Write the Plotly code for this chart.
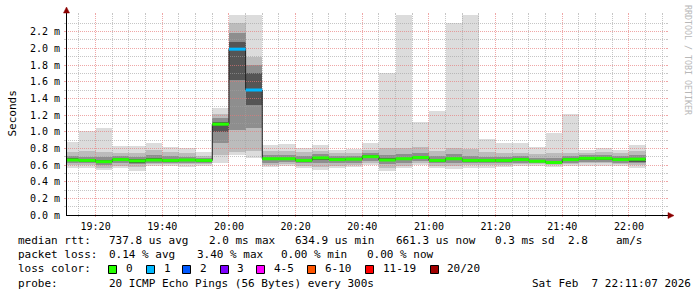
import math
import plotly.graph_objects as go
import pandas as pd

# ---------------- data ----------------
DAY = "2026-02-07 "
bar_start = ["19:10", "19:15", "19:20", "19:25", "19:30", "19:35", "19:40", "19:45",
             "19:50", "19:55", "20:00", "20:05", "20:10", "20:15", "20:20", "20:25",
             "20:30", "20:35", "20:40", "20:45", "20:50", "20:55", "21:00", "21:05",
             "21:10", "21:15", "21:20", "21:25", "21:30", "21:35", "21:40", "21:45",
             "21:50", "21:55", "22:00"]
# round-trip times in ms (sorted ping quantiles per 5-minute step)
rtt_min = [.57, .57, .54, .56, .53, .59, .59, .58, .59, .63, .72, .68, .58, .59, .56, .54, .56, .58,
           .595, .53, .56, .595, .56, .55, .57, .57, .58, .59, .59, .58, .59, .59, .59, .59, .57]
rtt_p10 = [.60, .60, .57, .59, .58, .61, .61, .61, .61, .72, .76, .77, .60, .61, .59, .58, .59, .60,
           .62, .57, .59, .62, .59, .59, .60, .60, .60, .61, .61, .60, .61, .62, .62, .61, .60]
rtt_p25 = [.62, .62, .60, .62, .61, .63, .63, .63, .63, .86, 1.02, 1.05, .63, .64, .62, .62, .62, .63,
           .65, .61, .63, .65, .62, .63, .62, .62, .62, .63, .62, .61, .63, .64, .64, .63, .62]
rtt_p40 = [.645, .635, .62, .645, .63, .645, .64, .645, .64, 1.00, 1.62, 1.32, .655, .66, .635, .655,
           .645, .655, .68, .645, .655, .67, .64, .655, .64, .64, .64, .645, .635, .625, .65, .66,
           .66, .645, .64]
rtt_med = [.66, .655, .64, .665, .65, .66, .655, .66, .655, 1.09, 1.99, 1.50, .675, .675, .655, .685,
           .665, .67, .70, .66, .675, .69, .655, .675, .655, .655, .655, .665, .645, .63, .665, .68,
           .68, .665, .67]
rtt_p60 = [.68, .67, .66, .68, .67, .68, .67, .675, .665, 1.12, 2.08, 1.70, .69, .69, .67, .70, .68,
           .685, .715, .68, .69, .71, .67, .69, .67, .67, .67, .68, .66, .65, .68, .69, .695, .68, .69]
rtt_p75 = [.71, .70, .70, .71, .70, .72, .71, .70, .68, 1.16, 2.18, 1.80, .72, .72, .71, .73, .71, .71,
           .74, .72, .73, .75, .71, .73, .71, .70, .70, .71, .69, .69, .71, .72, .72, .71, .72]
rtt_p90 = [.76, .77, .76, .75, .75, .78, .76, .74, .71, 1.21, 2.30, 1.90, .77, .77, .76, .77, .74, .75,
           .78, .80, .80, .82, .77, .80, .79, .76, .75, .75, .73, .75, .75, .75, .76, .75, .77]
rtt_max = [.88, 1.01, 1.05, .83, .83, .87, .82, .80, .76, 1.28, 2.45, 2.45, .84, .85, .81, .84, .78,
           .79, .87, 1.70, 2.45, 1.12, 1.25, 2.31, 2.45, .91, .87, .87, .82, .99, 1.21, .78, .80,
           .78, .84]
lost_pings = [0, 0, 0, 0, 0, 0, 0, 0, 0, 0, 1, 1, 0, 0, 0, 0, 0, 0, 0, 0, 0, 0, 0, 0, 0, 0, 0, 0,
              0, 0, 0, 0, 0, 0, 0]

x_tick_labels = ["19:20", "19:40", "20:00", "20:20", "20:40", "21:00", "21:20", "21:40", "22:00"]
y_tick_vals = [0.0, 0.2, 0.4, 0.6, 0.8, 1.0, 1.2, 1.4, 1.6, 1.8, 2.0, 2.2]
y_tick_text = ["0.0 m", "0.2 m", "0.4 m", "0.6 m", "0.8 m", "1.0 m", "1.2 m", "1.4 m",
               "1.6 m", "1.8 m", "2.0 m", "2.2 m"]

loss_labels = ["0", "1", "2", "3", "4-5", "6-10", "11-19", "20/20"]
loss_colors = ["#26ff00", "#00b8ff", "#0059ff", "#7e00ff", "#ff00ff", "#ff5500", "#ff0000", "#a10000"]
loss_class_of = {0: 0, 1: 1, 2: 2, 3: 3, 4: 4, 5: 4}

smoke_colors = ["#dcdcdc", "#bcbcbc", "#8e8e8e", "#555555"]

stats_line1 = [("median rtt:", 16), ("737.8 us avg", 107.3), ("2.0 ms max", 207),
               ("634.9 us min", 293.3), ("661.3 us now", 394), ("0.3 ms sd", 493.3),
               ("2.8", 566), ("am/s", 614)]
stats_line2 = [("packet loss:", 16), ("0.14 % avg", 107.3), ("3.40 % max", 195),
               ("0.00 % min", 279.3), ("0.00 % now", 365)]
legend_box_x = [108.3, 146, 182.7, 220, 256, 307.3, 365, 430]
probe_text = "20 ICMP Echo Pings (56 Bytes) every 300s"
date_text = "Sat Feb  7 22:11:07 2026"

# ---------------- geometry ----------------
W, H = 697, 297
L, R, T, B = 66, 31, 15, 82
PW, PH = W - L - R, H - T - B
X_START, X_END = DAY + "19:11:07", DAY + "22:11:07"
Y_MAX = 2.4


def px(x):
    return (x - L) / PW


def py(y):
    return (H - B - y) / PH


def snap(p):
    return math.floor(p) + 0.5


FONT = "DejaVu Sans Mono"
nb = lambda s: s.replace(" ", "\u00a0")

starts = pd.to_datetime([DAY + s for s in bar_start])
step = pd.Timedelta(minutes=5)
centers = starts + step / 2
ends = starts + step
t0 = pd.Timestamp(X_START)
span = (pd.Timestamp(X_END) - t0).total_seconds()

fig = go.Figure()

# smoke (outer band first, darkest innermost band last)
bands = [(rtt_min, rtt_max), (rtt_p10, rtt_p90), (rtt_p25, rtt_p75), (rtt_p40, rtt_p60)]
for (lo, hi), col in zip(bands, smoke_colors):
    fig.add_trace(go.Bar(
        x=centers, base=lo, y=[h - l for l, h in zip(lo, hi)],
        width=[step.total_seconds() * 1000] * len(lo),
        marker=dict(color=col, line=dict(width=0)),
        showlegend=False, hoverinfo="skip"))

# grid as line traces: above the smoke, below the median lines
MINOR = "rgba(160,160,160,0.6)"
MAJOR = "rgba(230,120,120,0.65)"
grid = {True: ([], [], [], []), False: ([], [], [], [])}   # vx, vy, hx, hy
tick_shapes = []
for t in pd.date_range(DAY + "19:15", DAY + "22:10", freq="5min"):
    major = t.minute % 20 == 0
    xp = snap(L + (t - t0).total_seconds() / span * PW)
    ts = t0 + pd.Timedelta(seconds=(xp - L) / PW * span)
    vx, vy, _, _ = grid[major]
    vx += [ts, ts, None]
    vy += [0, Y_MAX, None]
    col = MAJOR if major else MINOR
    for ya, yb in ((-2 / PH, 0), (1, 1 + 2 / PH)):
        tick_shapes.append(dict(type="line", xref="paper", yref="paper", x0=px(xp), x1=px(xp),
                                y0=ya, y1=yb, line=dict(color=col, width=1)))
for k in range(1, 24):
    major = k % 2 == 0
    yp = snap(H - B - (k / 10) / Y_MAX * PH)
    val = (H - B - yp) / PH * Y_MAX
    _, _, hx, hy = grid[major]
    hx += [t0, pd.Timestamp(X_END), None]
    hy += [val, val, None]
    col = MAJOR if major else MINOR
    for xa, xb in ((-2 / PW, 0), (1, 1 + 2 / PW)):
        tick_shapes.append(dict(type="line", xref="paper", yref="paper", x0=xa, x1=xb,
                                y0=py(yp), y1=py(yp), line=dict(color=col, width=1)))
for major in (False, True):
    vx, vy, hx, hy = grid[major]
    col = MAJOR if major else MINOR
    for gx, gy in ((vx, vy), (hx, hy)):
        fig.add_trace(go.Scatter(x=gx, y=gy, mode="lines", connectgaps=False,
                                 line=dict(color=col, width=1, dash="1px,1px"),
                                 showlegend=False, hoverinfo="skip"))

# thin dark median step line
fig.add_trace(go.Scatter(
    x=list(starts) + [ends[-1]], y=rtt_med + [rtt_med[-1]],
    mode="lines", line=dict(color="#202020", width=1, shape="hv"),
    showlegend=False, hoverinfo="skip"))

# coloured median per step, coloured by loss class
cls = [loss_class_of[n] for n in lost_pings]
for c in sorted(set(cls)):
    xs, ys = [], []
    for i, ci in enumerate(cls):
        if ci == c:
            xs += [starts[i], ends[i], None]
            ys += [rtt_med[i], rtt_med[i], None]
    fig.add_trace(go.Scatter(
        x=xs, y=ys, mode="lines", connectgaps=False,
        line=dict(color=loss_colors[c], width=3),
        showlegend=False, hoverinfo="skip"))

shapes = list(tick_shapes)
# axes
shapes.append(dict(type="line", xref="paper", yref="paper", x0=px(66), x1=px(671),
                   y0=py(215.5), y1=py(215.5), layer="above", line=dict(color="#000000", width=1)))
shapes.append(dict(type="line", xref="paper", yref="paper", x0=px(66.5), x1=px(66.5),
                   y0=py(215.5), y1=py(10), layer="above", line=dict(color="#000000", width=1)))
ARROW = "#8b0000"
shapes.append(dict(type="path", xref="paper", yref="paper", layer="above",
                   path=f"M {px(668)} {py(212.5)} L {px(674)} {py(215.5)} L {px(668)} {py(218.5)} Z",
                   fillcolor=ARROW, line=dict(color=ARROW, width=0.5)))
shapes.append(dict(type="path", xref="paper", yref="paper", layer="above",
                   path=f"M {px(63.5)} {py(13)} L {px(66.5)} {py(7)} L {px(69.5)} {py(13)} Z",
                   fillcolor=ARROW, line=dict(color=ARROW, width=0.5)))
# legend colour boxes
for bx, col in zip(legend_box_x, loss_colors):
    x0 = snap(bx)
    shapes.append(dict(type="rect", xref="paper", yref="paper",
                       x0=px(x0), x1=px(x0 + 8), y0=py(265.5), y1=py(273.5),
                       fillcolor=col, line=dict(color="#000000", width=1)))

ann = []


def text(s, x, y, anchor="left", size=11, color="#000000", angle=0):
    ann.append(dict(text=nb(s), x=px(x), y=py(y), xref="paper", yref="paper",
                    xanchor=anchor, yanchor="middle", showarrow=False, textangle=angle,
                    font=dict(family=FONT, size=size, color=color)))


for s, x in stats_line1:
    text(s, x, 240)
for s, x in stats_line2:
    text(s, x, 254.3)
text("loss color:", 16, 268.7)
for bx, lab in zip(legend_box_x, loss_labels):
    text(lab, bx + 15.5, 268.7)
text("probe:", 16, 283)
text(probe_text, 107.3, 283)
text(date_text, 693, 283, anchor="right")
ann.append(dict(text="Seconds", x=px(11.5), y=py(114), xref="paper", yref="paper",
                xanchor="center", yanchor="middle", showarrow=False, textangle=-90,
                font=dict(family=FONT, size=11, color="#000000")))
ann.append(dict(text=nb("RRDTOOL / TOBI OETIKER"), x=px(688), y=py(60), xref="paper",
                yref="paper", xanchor="center", yanchor="middle", showarrow=False,
                textangle=90, font=dict(family=FONT, size=8.3, color="#b8b8b8")))

fig.update_layout(
    width=W, height=H, autosize=False,
    margin=dict(l=L, r=R, t=T, b=B, pad=0),
    paper_bgcolor="#ffffff", plot_bgcolor="#ffffff",
    barmode="overlay", bargap=0, showlegend=False,
    shapes=shapes, annotations=ann,
    xaxis=dict(type="date", range=[X_START, X_END],
               tickvals=[DAY + t for t in x_tick_labels], ticktext=x_tick_labels,
               showgrid=False, zeroline=False, showline=False, ticks="",
               ticklabelstandoff=4,
               tickfont=dict(family=FONT, size=10, color="#000000"), fixedrange=True),
    yaxis=dict(range=[0, Y_MAX], tickvals=y_tick_vals, ticktext=[nb(s) for s in y_tick_text],
               showgrid=False, zeroline=False, showline=False, ticks="",
               ticklabelstandoff=5,
               tickfont=dict(family=FONT, size=10, color="#000000"), fixedrange=True),
)

fig.write_html("out.html")
